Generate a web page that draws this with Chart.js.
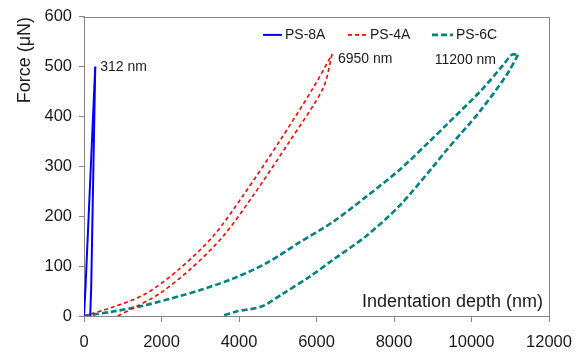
<!DOCTYPE html>
<html><head><meta charset="utf-8">
<script src="https://cdn.jsdelivr.net/npm/chart.js@4/dist/chart.umd.min.js"></script>
<style>html,body{margin:0;padding:0;background:#fff;overflow:hidden}</style>
</head><body>
<canvas id="c" width="585" height="353"></canvas>
<script>
// ---- data ----
const seriesNames = ['PS-8A', 'PS-4A', 'PS-6C'];
// PS-8A (blue): loading then unloading
const ps8aLoadDepth = [0, 39, 290];
const ps8aLoadForce = [0, 58, 500];
const ps8aUnloadDepth = [290, 186, 160];
const ps8aUnloadForce = [500, 58, 0];
// PS-4A (red)
const ps4aLoadDepth = [0, 750, 1600, 2470, 3330, 4100, 5050, 5910, 6400];
const ps4aLoadForce = [0, 18, 45, 95, 160, 241, 351, 457, 525];
const ps4aUnloadDepth = [6400, 6170, 5310, 4360, 3590, 2760, 1950, 1300, 870];
const ps4aUnloadForce = [525, 457, 351, 241, 160, 95, 45, 17, 0];
// PS-6C (teal)
const ps6cLoadDepth = [0, 750, 1600, 2470, 3000, 3845, 4708, 5569, 6429, 7292, 8153, 8928, 9359, 10220, 10822, 11040, 11200];
const ps6cLoadForce = [0, 9, 22, 40, 52, 75, 106, 148, 189, 240, 294, 351, 384, 450, 504, 524, 524];
const ps6cUnloadDepth = [11200, 10910, 10220, 9359, 9013, 8153, 7292, 6429, 5827, 5137, 4580, 3930, 3550];
const ps6cUnloadForce = [524, 484, 411, 333, 300, 222, 161, 113, 79, 45, 19, 9, 0];
const peakLabels = ['312 nm', '6950 nm', '11200 nm'];
const xTicks = [0, 2000, 4000, 6000, 8000, 10000, 12000];
const yTicks = [0, 100, 200, 300, 400, 500, 600];
const xTitle = 'Indentation depth (nm)';
const yTitle = 'Force (\u03bcN)';

// ---- styling ----
const FONT = '"Liberation Sans", Arial, sans-serif';
const AXIS = '#868686';
const TXT = '#1a1a1a';
const colors = ['#0000ff', '#ff0000', '#008080'];
const widths = [2, 1.6, 2.6];
const dashes = [[], [4, 3], [6, 3]];
const tensions = [0, 0.3, 0.3];
const labelOffsets = [[5, 0, 'left'], [6, 5, 'left'], [-22, 5, 'right']];

const toPts = (xs, ys) => xs.map((x, i) => ({x: x, y: ys[i]}));
const seriesParts = [
  [toPts(ps8aLoadDepth, ps8aLoadForce), toPts(ps8aUnloadDepth, ps8aUnloadForce)],
  [toPts(ps4aLoadDepth, ps4aLoadForce), toPts(ps4aUnloadDepth, ps4aUnloadForce)],
  [toPts(ps6cLoadDepth, ps6cLoadForce), toPts(ps6cUnloadDepth, ps6cUnloadForce)]
];

const datasets = [];
seriesNames.forEach((n, i) => {
  ['loading', 'unloading'].forEach((part, j) => {
    datasets.push({
      label: n + ' ' + part,
      data: seriesParts[i][j],
      showLine: true,
      borderColor: colors[i],
      backgroundColor: colors[i],
      borderWidth: widths[i],
      borderDash: dashes[i],
      borderCapStyle: 'butt',
      pointRadius: 0,
      tension: tensions[i],
      fill: false
    });
  });
});

const decor = {
  id: 'decor',
  afterDatasetsDraw(chart) {
    const {ctx, chartArea: a, scales: {x, y}} = chart;
    ctx.save();
    // top and right frame
    ctx.strokeStyle = AXIS; ctx.lineWidth = 1; ctx.setLineDash([]);
    ctx.beginPath();
    ctx.moveTo(Math.round(a.left) - 0.5, Math.round(a.top) + 0.5);
    ctx.lineTo(Math.round(a.right) + 0.5, Math.round(a.top) + 0.5);
    ctx.lineTo(Math.round(a.right) + 0.5, Math.round(a.bottom));
    ctx.stroke();
    // legend
    const legX = [263, 348, 432];
    const legW = [19, 19, 21];
    const legY = a.top + 18;
    ctx.font = '14px ' + FONT;
    ctx.textBaseline = 'middle';
    ctx.textAlign = 'left';
    seriesNames.forEach((n, i) => {
      ctx.strokeStyle = colors[i]; ctx.lineWidth = widths[i]; ctx.setLineDash(dashes[i]);
      ctx.beginPath(); ctx.moveTo(legX[i], legY); ctx.lineTo(legX[i] + legW[i], legY); ctx.stroke();
      ctx.setLineDash([]);
      ctx.fillStyle = TXT;
      ctx.fillText(n, legX[i] + legW[i] + 3, legY);
    });
    // peak labels, anchored at each series' maximum force
    seriesParts.forEach((parts, i) => {
      const pts = parts[0].concat(parts[1]);
      let m = pts[0];
      pts.forEach(p => { if (p.y > m.y || (p.y === m.y && p.x > m.x)) m = p; });
      const o = labelOffsets[i];
      ctx.textAlign = o[2];
      ctx.fillText(peakLabels[i], x.getPixelForValue(m.x) + o[0], y.getPixelForValue(m.y) + o[1]);
    });
    // x-axis title inside the plot area
    ctx.font = '18px ' + FONT;
    ctx.textAlign = 'right';
    ctx.fillText(xTitle, a.right - 6, a.bottom - 13.5);
    ctx.restore();
  }
};

new Chart(document.getElementById('c'), {
  type: 'scatter',
  data: {datasets: datasets},
  options: {
    responsive: false,
    animation: false,
    devicePixelRatio: 1,
    layout: {padding: {left: 0, right: 36, top: 15, bottom: 0}},
    plugins: {legend: {display: false}, tooltip: {enabled: false}},
    scales: {
      x: {
        type: 'linear', min: 0, max: 12000,
        afterBuildTicks: s => { s.ticks = xTicks.map(v => ({value: v})); },
        afterFit: s => { s.height = 37; },
        grid: {display: true, drawOnChartArea: false, drawTicks: true, tickLength: 6, color: AXIS},
        border: {color: AXIS, width: 1},
        ticks: {font: {family: FONT, size: 16.5}, color: TXT, padding: 11, maxRotation: 0, autoSkip: false, callback: v => String(v)}
      },
      y: {
        type: 'linear', min: 0, max: 600,
        afterBuildTicks: s => { s.ticks = yTicks.map(v => ({value: v})); },
        afterFit: s => { s.width = 84; },
        grid: {display: true, drawOnChartArea: false, drawTicks: true, tickLength: 5, color: AXIS},
        border: {color: AXIS, width: 1},
        ticks: {font: {family: FONT, size: 16.5}, color: TXT, padding: 7, autoSkip: false, callback: v => String(v)},
        title: {display: true, text: yTitle, align: 'end', color: TXT, font: {family: FONT, size: 18}, padding: {top: 14, bottom: 0}}
      }
    }
  },
  plugins: [decor]
});
</script>
</body></html>
